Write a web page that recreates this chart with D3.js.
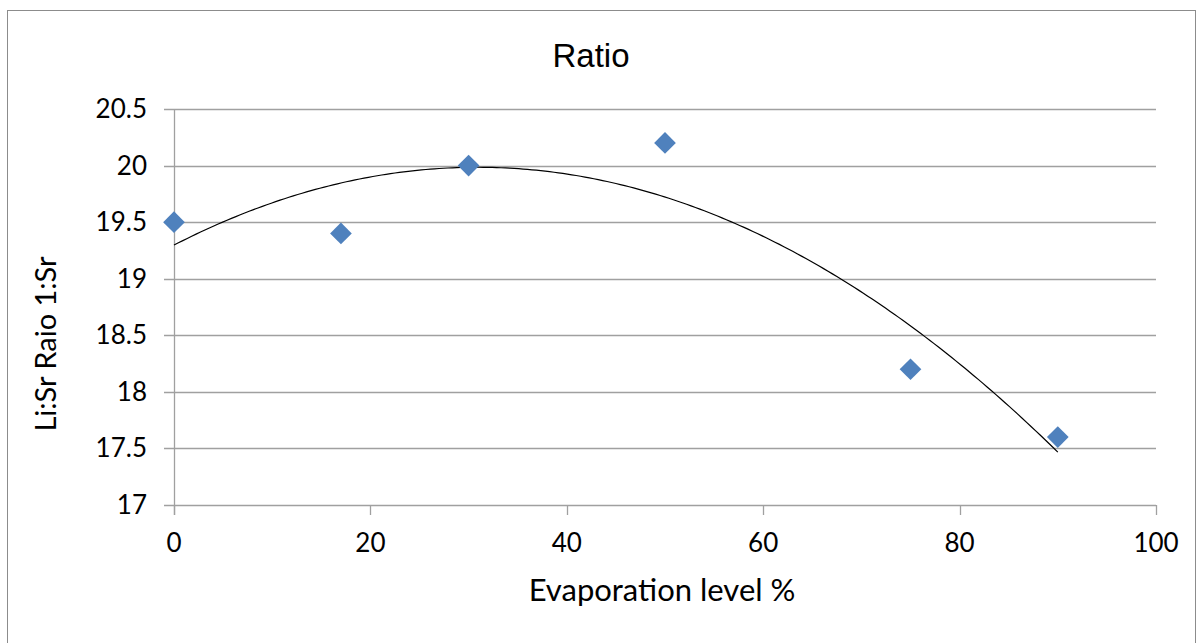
<!DOCTYPE html>
<html><head><meta charset="utf-8">
<script src="https://cdn.jsdelivr.net/npm/d3@7"></script>
<style>
html,body{margin:0;padding:0;background:#fff;}
svg{display:block;}
</style></head>
<body>
<svg id="chart" width="1197" height="643"></svg>
<script>
// ---- data ----
const evaporation = [0, 17, 30, 50, 75, 90];
const ratio = [19.5, 19.4, 20.0, 20.2, 18.2, 17.6];
const xTicks = [0, 20, 40, 60, 80, 100];
const yTicks = [17, 17.5, 18, 18.5, 19, 19.5, 20, 20.5];
const chartTitle = "Ratio";
const xTitle = "Evaporation level %";
const yTitle = "Li:Sr Raio 1:Sr";

const svg = d3.select("#chart");
const plot = {left: 174, right: 1156, top: 109, bottom: 505};

const x = d3.scaleLinear().domain([0, 100]).range([plot.left, plot.right]);
const y = d3.scaleLinear().domain([17, 20.5]).range([plot.bottom, plot.top]);

const grid = "#a0a0a0";
const tickFont = "Lato, 'Open Sans', sans-serif";

// outer border
svg.append("rect").attr("x", 7.5).attr("y", 10.5).attr("width", 1188).attr("height", 660)
  .attr("fill", "none").attr("stroke", "#8c8c8c").attr("stroke-width", 1);

// gridlines
svg.append("g").selectAll("line").data(yTicks).join("line")
  .attr("x1", plot.left - 10).attr("x2", plot.right)
  .attr("y1", d => Math.round(y(d)) + 0.5).attr("y2", d => Math.round(y(d)) + 0.5)
  .attr("stroke", grid).attr("stroke-width", 1.3);

// y axis line
svg.append("line").attr("x1", plot.left + 0.5).attr("x2", plot.left + 0.5)
  .attr("y1", plot.top).attr("y2", plot.bottom + 10)
  .attr("stroke", grid).attr("stroke-width", 1.3);

// x ticks
svg.append("g").selectAll("line").data(xTicks).join("line")
  .attr("x1", d => Math.round(x(d)) + 0.5).attr("x2", d => Math.round(x(d)) + 0.5)
  .attr("y1", plot.bottom).attr("y2", plot.bottom + 10)
  .attr("stroke", grid).attr("stroke-width", 1.3);

// y tick labels
svg.append("g").selectAll("text").data(yTicks).join("text")
  .attr("x", 147).attr("y", d => y(d) + 9)
  .attr("text-anchor", "end")
  .attr("font-family", tickFont).attr("font-size", 26).attr("fill", "#000")
  .text(d => d);

// x tick labels
svg.append("g").selectAll("text").data(xTicks).join("text")
  .attr("x", d => x(d)).attr("y", 552)
  .attr("text-anchor", "middle")
  .attr("font-family", tickFont).attr("font-size", 26).attr("fill", "#000")
  .text(d => d);

// titles
svg.append("text").attr("x", 591).attr("y", 67).attr("text-anchor", "middle")
  .attr("font-family", "'Liberation Sans', Arial, sans-serif").attr("font-size", 33)
  .attr("fill", "#000").text(chartTitle);

svg.append("text").attr("x", 662).attr("y", 601).attr("text-anchor", "middle")
  .attr("font-family", tickFont).attr("font-size", 31).attr("fill", "#000").text(xTitle);

svg.append("text").attr("transform", "translate(56,344) rotate(-90)").attr("text-anchor", "middle")
  .attr("font-family", tickFont).attr("font-size", 29).attr("fill", "#000").text(yTitle);

// polynomial (order 2) least-squares trendline
function polyfit2(xs, ys) {
  const n = xs.length;
  let s = [0,0,0,0,0], t = [0,0,0];
  for (let i = 0; i < n; i++) {
    for (let k = 0; k < 5; k++) s[k] += Math.pow(xs[i], k);
    for (let k = 0; k < 3; k++) t[k] += ys[i] * Math.pow(xs[i], k);
  }
  const M = [[s[0],s[1],s[2],t[0]],[s[1],s[2],s[3],t[1]],[s[2],s[3],s[4],t[2]]];
  for (let i = 0; i < 3; i++) {
    let p = i;
    for (let r = i+1; r < 3; r++) if (Math.abs(M[r][i]) > Math.abs(M[p][i])) p = r;
    [M[i], M[p]] = [M[p], M[i]];
    for (let r = 0; r < 3; r++) if (r !== i) {
      const f = M[r][i] / M[i][i];
      for (let c = i; c < 4; c++) M[r][c] -= f * M[i][c];
    }
  }
  return [M[0][3]/M[0][0], M[1][3]/M[1][1], M[2][3]/M[2][2]];
}
const [a0, a1, a2] = polyfit2(evaporation, ratio);
const xMin = d3.min(evaporation), xMax = d3.max(evaporation);
const trend = d3.range(0, 201).map(i => {
  const xv = xMin + (xMax - xMin) * i / 200;
  return [xv, a0 + a1 * xv + a2 * xv * xv];
});
svg.append("path").datum(trend)
  .attr("d", d3.line().x(d => x(d[0])).y(d => y(d[1])))
  .attr("fill", "none").attr("stroke", "#000").attr("stroke-width", 1.2);

// markers
const pts = evaporation.map((v, i) => [v, ratio[i]]);
svg.append("g").selectAll("path").data(pts).join("path")
  .attr("transform", d => `translate(${x(d[0])},${y(d[1])})`)
  .attr("d", d3.symbol().type(d3.symbolDiamond2).size(300))
  .attr("fill", "#4f81bd");
</script>
</body></html>
